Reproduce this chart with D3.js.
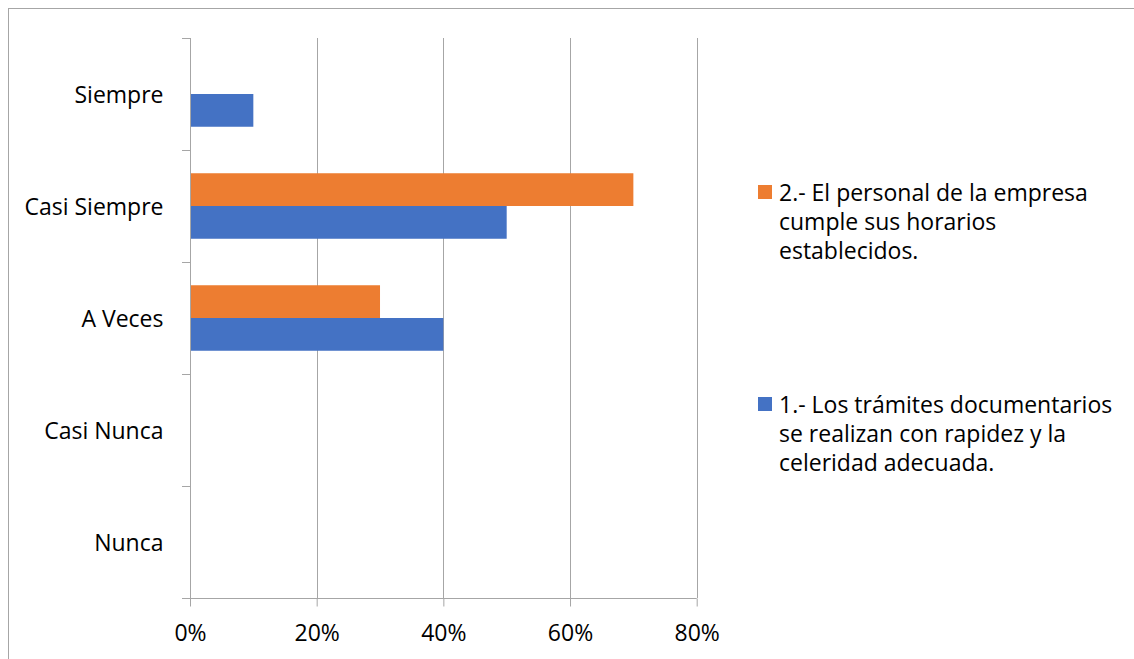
<!DOCTYPE html>
<html>
<head>
<meta charset="utf-8">
<script src="https://cdn.jsdelivr.net/npm/d3@7"></script>
<style>
  body { margin: 0; background: #fff; }
  svg { display: block; }
  text { font-family: "Open Sans", Lato, sans-serif; fill: #000; }
</style>
</head>
<body>
<script>
var W = 1134, H = 659;

// categories top to bottom
var categories = ["Siempre", "Casi Siempre", "A Veces", "Casi Nunca", "Nunca"];
var seriesNames = ["2.- El personal de la empresa cumple sus horarios establecidos.",
                   "1.- Los trámites documentarios se realizan con rapidez y la celeridad adecuada."];
var seriesColors = ["#ED7D31", "#4472C4"];
var legendLines = [["2.- El personal de la empresa", "cumple sus horarios", "establecidos."],
                   ["1.- Los trámites documentarios", "se realizan con rapidez y la", "celeridad adecuada."]];
// values per category, same order as categories
var pregunta2 = [0, 0.70, 0.30, 0, 0];
var pregunta1 = [0.10, 0.50, 0.40, 0, 0];
var xTicks = [0, 0.2, 0.4, 0.6, 0.8];

var fontSize = "23px";

var svg = d3.select("body").append("svg")
  .attr("width", W)
  .attr("height", H);

// chart border (runs off right and bottom)
svg.append("rect")
  .attr("x", 8.5).attr("y", 8.5)
  .attr("width", 1140).attr("height", 700)
  .attr("fill", "none")
  .attr("stroke", "#a6a6a6")
  .attr("stroke-width", 1);

var plotL = 190, plotR = 696.7, plotT = 38, plotB = 598;

var x = d3.scaleLinear().domain([0, 0.8]).range([plotL, plotR]);
var y = d3.scaleBand().domain(categories).range([plotT, plotB]);
var inner = d3.scaleBand().domain([0, 1]).range([0, y.bandwidth()]).paddingOuter(0.71).paddingInner(0);

// gridlines
svg.append("g").selectAll("line")
  .data(xTicks.slice(1))
  .enter().append("line")
  .attr("x1", function(d) { return Math.round(x(d)) + 0.5; })
  .attr("x2", function(d) { return Math.round(x(d)) + 0.5; })
  .attr("y1", plotT).attr("y2", plotB)
  .attr("stroke", "#a6a6a6");

// bars: series 0 (orange) on top, 1 (blue) below
var rows = [];
categories.forEach(function(c, i) {
  rows.push({cat: c, s: 0, v: pregunta2[i]});
  rows.push({cat: c, s: 1, v: pregunta1[i]});
});

svg.append("g").selectAll("rect")
  .data(rows.filter(function(d) { return d.v > 0; }))
  .enter().append("rect")
  .attr("x", x(0))
  .attr("y", function(d) { return y(d.cat) + inner(d.s); })
  .attr("width", function(d) { return x(d.v) - x(0); })
  .attr("height", inner.bandwidth())
  .attr("fill", function(d) { return seriesColors[d.s]; });

// y axis
var yAxis = d3.axisLeft(y).tickSize(0).tickPadding(27);
var gy = svg.append("g").attr("transform", "translate(" + (plotL + 0.5) + ",0)").call(yAxis);
gy.select(".domain").attr("stroke", "#a6a6a6").attr("d", "M0," + plotT + "V" + plotB);
gy.selectAll("text").style("font-size", fontSize).attr("fill", "#000").attr("dy", "0.37em");
// category boundary ticks
svg.append("g").selectAll("line")
  .data(d3.range(categories.length + 1))
  .enter().append("line")
  .attr("x1", plotL - 8).attr("x2", plotL)
  .attr("y1", function(i) { return Math.round(plotT + i * y.step()) + 0.5; })
  .attr("y2", function(i) { return Math.round(plotT + i * y.step()) + 0.5; })
  .attr("stroke", "#a6a6a6");

// x axis
var xAxis = d3.axisBottom(x).tickValues(xTicks).tickFormat(d3.format(".0%")).tickSize(8).tickPadding(18);
var gx = svg.append("g").attr("transform", "translate(0," + (plotB + 0.5) + ")").call(xAxis);
gx.select(".domain").attr("stroke", "#a6a6a6").attr("d", "M" + (plotL - 8) + ",0H" + plotR);
gx.selectAll(".tick line").attr("stroke", "#a6a6a6");
gx.selectAll("text").style("font-size", fontSize).attr("fill", "#000");

// legend
var legY = [185, 397];
var lg = svg.append("g").selectAll("g")
  .data(seriesNames)
  .enter().append("g")
  .attr("transform", function(d, i) { return "translate(758," + legY[i] + ")"; });
lg.append("rect")
  .attr("width", 14).attr("height", 14)
  .attr("fill", function(d, i) { return seriesColors[i]; });
lg.each(function(d, i) {
  var t = d3.select(this).append("text").style("font-size", fontSize);
  t.selectAll("tspan")
    .data(legendLines[i])
    .enter().append("tspan")
    .attr("x", 21)
    .attr("y", function(l, j) { return 16 + j * 29; })
    .text(function(l) { return l; });
});
</script>
</body>
</html>
